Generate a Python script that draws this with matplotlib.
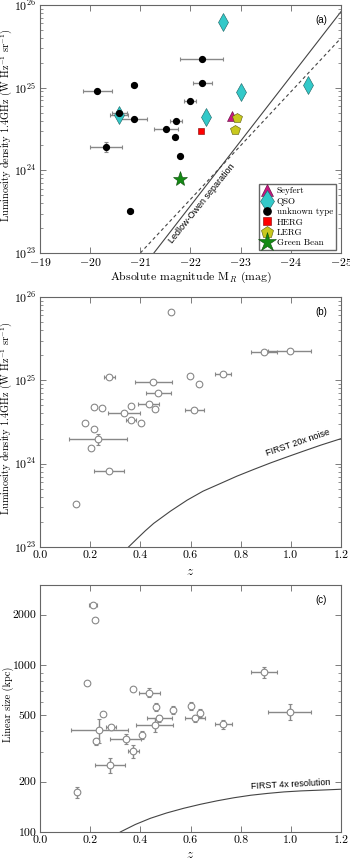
import numpy as np
import matplotlib
matplotlib.use("Agg")
import matplotlib.pyplot as plt
from matplotlib.ticker import FixedLocator, FixedFormatter, NullFormatter, LogLocator

plt.rcParams['font.family'] = 'serif'
plt.rcParams['font.serif'] = ['cmr10', 'DejaVu Serif']
plt.rcParams['mathtext.fontset'] = 'cm'
plt.rcParams['axes.formatter.use_mathtext'] = True
plt.rcParams['axes.unicode_minus'] = True

# ---------------- Panel (a) data ----------------
unk_M = [-22.22, -22.23, -20.14, -20.87, -21.99, -20.58, -20.87, -21.71, -21.52, -21.70, -20.31, -21.79, -20.80]
unk_L = [2.2e25, 1.14e25, 9.2e24, 1.08e25, 6.9e24, 5.0e24, 4.2e24, 4.0e24, 3.16e24, 2.54e24, 1.92e24, 1.51e24, 3.26e23]
unk_Merr = [0.43, 0.19, 0.29, 0.05, 0.12, 0.15, 0.27, 0.12, 0.24, 0.0, 0.32, 0.0, 0.05]
unk_Lerr = [0, 0, 0, 0, 0, 0, 0, 0, 0, 0, 0.26e24, 0, 0]

qso_M = [-22.65, -24.35, -23.01, -22.31, -20.57]
qso_L = [6.3e25, 1.09e25, 8.9e24, 4.4e24, 4.7e24]
qso_Merr = [0, 0, 0, 0, 0.18]

sey_M = [-22.83]
sey_L = [4.5e24]
herg_M = [-22.21]
herg_L = [3.0e24]
lerg_M = [-22.93, -22.88]
lerg_L = [4.3e24, 3.05e24]
gb_M = [-21.80]
gb_L = [7.8e23]

lo_solid_M = [-21.27, -25.0]
lo_solid_L = [1e23, 10**25.92]
lo_dash_M = [-21.0, -25.0]
lo_dash_L = [1e23, 10**25.6]

# ---------------- Panel (b) data ----------------
z_b = [0.524, 0.893, 0.995, 0.277, 0.452, 0.597, 0.632, 0.729, 0.472, 0.433, 0.215, 0.247,
       0.364, 0.459, 0.335, 0.615, 0.180, 0.364, 0.401, 0.217, 0.232, 0.205, 0.275, 0.143]
L_b = [6.6e25, 2.17e25, 2.26e25, 1.10e25, 9.5e24, 1.13e25, 9.1e24, 1.18e25, 7.1e24, 5.2e24, 4.8e24, 4.6e24,
       4.9e24, 4.5e24, 4.1e24, 4.4e24, 3.1e24, 3.3e24, 3.05e24, 2.6e24, 1.97e24, 1.55e24, 8.1e23, 3.3e23]
zerr_b = [0, 0.053, 0.087, 0.023, 0.075, 0, 0, 0.033, 0.05, 0.042, 0, 0,
          0, 0, 0.062, 0.038, 0, 0.02, 0, 0, 0.115, 0, 0.058, 0]
Lerr_b = [0, 0, 0, 0, 0, 0, 0, 0, 0, 0, 0, 0,
          0, 0, 0, 0, 0, 0, 0, 0, 0.28e24, 0, 0, 0]

noise_z = [0.353, 0.387, 0.42, 0.453, 0.52, 0.587, 0.65, 0.72, 0.785, 0.853, 0.92, 0.987, 1.05, 1.12, 1.2]
noise_logL = [23.0, 23.10, 23.195, 23.283, 23.43, 23.563, 23.67, 23.763, 23.85, 23.932, 24.01, 24.083,
              24.15, 24.223, 24.30]

# ---------------- Panel (c) data ----------------
z_c = [0.212, 0.220, 0.188, 0.369, 0.436, 0.893, 0.995, 0.463, 0.529, 0.600, 0.636, 0.252,
       0.476, 0.617, 0.457, 0.731, 0.283, 0.237, 0.407, 0.341, 0.223, 0.372, 0.280, 0.149]
size_c = [2287, 1858, 777, 714, 682, 904, 523, 558, 538, 570, 517, 507,
          480, 480, 437, 441, 424, 408, 381, 361, 349, 305, 251, 173]
zerr_c = [0.015, 0, 0, 0, 0.042, 0.053, 0.087, 0, 0, 0, 0, 0,
          0.051, 0.039, 0.075, 0.033, 0.018, 0.115, 0, 0.06, 0.01, 0.022, 0.059, 0]
sizeerr_c = [0, 0, 0, 0, 43, 63, 58, 31, 30, 32, 30, 0,
             22, 25, 42, 30, 15, 65, 21, 25, 15, 26, 25, 14]

res_z = [0.32, 0.38, 0.44, 0.505, 0.573, 0.64, 0.707, 0.773, 0.84, 0.907, 0.973, 1.04, 1.107, 1.2]
res_logsize = [2.0, 2.045, 2.082, 2.114, 2.142, 2.166, 2.187, 2.205, 2.22, 2.231, 2.24, 2.246, 2.25, 2.256]

# ---------------- Figure ----------------
fig = plt.figure(figsize=(3.5, 8.63), dpi=100)
L_ = 40 / 350
W_ = 301 / 350
axa = fig.add_axes([L_, 1 - 253 / 863, W_, 248 / 863])
axb = fig.add_axes([L_, 1 - 547 / 863, W_, 250 / 863])
axc = fig.add_axes([L_, 1 - 832 / 863, W_, 247 / 863])

spine_col = '#666666'
err_col = '#888888'
fs = 8.5
lfs = 7.4

def style(ax):
    for s in ax.spines.values():
        s.set_color(spine_col)
        s.set_linewidth(0.8)
    ax.tick_params(which='both', direction='in', top=True, right=True, color=spine_col,
                   labelsize=fs, pad=2.5)
    ax.tick_params(which='major', length=4, width=0.6)
    ax.tick_params(which='minor', length=2, width=0.5)
    ax.yaxis.set_label_coords(-0.085, 0.515)

# Panel (a)
ax = axa
ax.errorbar(unk_M, unk_L, xerr=unk_Merr, yerr=unk_Lerr, fmt='none', ecolor=err_col,
            elinewidth=1.0, capsize=1.5, capthick=0.8, zorder=2)
ax.errorbar(qso_M, qso_L, xerr=qso_Merr, fmt='none', ecolor=err_col,
            elinewidth=1.0, capsize=1.5, capthick=0.8, zorder=2)
ax.plot(lo_solid_M, lo_solid_L, '-', color='#444444', lw=0.8, zorder=1)
ax.plot(lo_dash_M, lo_dash_L, '--', color='#444444', lw=0.8, dashes=(3, 2.5), zorder=1)
h1, = ax.plot(sey_M, sey_L, '^', ms=6.5, mfc='#c8177f', mec='#5a0a3a', mew=0.4, ls='none', zorder=4)
h2, = ax.plot(qso_M, qso_L, 'd', ms=9, mfc='#33c9c9', mec='#1a6060', mew=0.4, ls='none', zorder=4)
h3, = ax.plot(unk_M, unk_L, 'o', ms=4.2, mfc='black', mec='black', ls='none', zorder=4)
h4, = ax.plot(herg_M, herg_L, 's', ms=5, mfc='#ff0000', mec='#800000', mew=0.4, ls='none', zorder=4)
h5, = ax.plot(lerg_M, lerg_L, 'p', ms=7, mfc='#c8c81e', mec='#5a5a10', mew=0.4, ls='none', zorder=4)
h6, = ax.plot(gb_M, gb_L, '*', ms=11, mfc='#138a13', mec='#0a4a0a', mew=0.4, ls='none', zorder=4)
ax.set_yscale('log')
ax.set_xlim(-19, -25)
ax.set_ylim(1e23, 1e26)
ax.set_xticks([-19, -20, -21, -22, -23, -24, -25])
ax.set_xlabel(r'Absolute magnitude M$_R$ (mag)', fontsize=fs, labelpad=1)
ax.set_ylabel(r'Luminosity density 1.4GHz (W Hz$^{-1}$ sr$^{-1}$)', fontsize=lfs)
style(ax)
ax.text(0.935, 0.94, '(a)', transform=ax.transAxes, fontsize=7, family='Liberation Sans',
        ha='center', va='center')
ax.text(-22.23, 10**23.594, 'Ledlow-Owen separation', rotation=51, fontsize=6.5,
        family='Liberation Sans', ha='center', va='center')
leg = ax.legend([h1, h2, h3, h4, h5, h6],
                ['Seyfert', 'QSO', 'unknown type', 'HERG', 'LERG', 'Green Bean'],
                loc='lower right', bbox_to_anchor=(0.983, 0.012), borderaxespad=0,
                fontsize=6.5, markerscale=1.25, numpoints=1,
                handlelength=1.2, handletextpad=0.5, labelspacing=0.22,
                fancybox=False, framealpha=1, edgecolor=spine_col, borderpad=0.3)
leg.get_frame().set_linewidth(1.0)

# Panel (b)
ax = axb
ax.errorbar(z_b, L_b, xerr=zerr_b, yerr=Lerr_b, fmt='o', ms=4.8, mfc='white', mec=err_col,
            mew=0.8, ecolor=err_col, elinewidth=1.0, capsize=1.5, capthick=0.8, ls='none', zorder=3)
ax.plot(noise_z, [10**v for v in noise_logL], '-', color='#444444', lw=0.8, zorder=2)
ax.set_yscale('log')
ax.set_xlim(0, 1.2)
ax.set_ylim(1e23, 1e26)
ax.set_xticks([0.0, 0.2, 0.4, 0.6, 0.8, 1.0, 1.2])
ax.xaxis.set_major_formatter(FixedFormatter(['0.0', '0.2', '0.4', '0.6', '0.8', '1.0', '1.2']))
ax.set_xlabel(r'$z$', fontsize=fs + 1, labelpad=4)
ax.set_ylabel(r'Luminosity density 1.4GHz (W Hz$^{-1}$ sr$^{-1}$)', fontsize=lfs)
style(ax)
ax.text(0.935, 0.94, '(b)', transform=ax.transAxes, fontsize=7, family='Liberation Sans',
        ha='center', va='center')
ax.text(1.03, 10**24.25, 'FIRST 20x noise', rotation=19, fontsize=6.5,
        family='Liberation Sans', ha='center', va='center')

# Panel (c)
ax = axc
ax.errorbar(z_c, size_c, xerr=zerr_c, yerr=sizeerr_c, fmt='o', ms=4.8, mfc='white', mec=err_col,
            mew=0.8, ecolor=err_col, elinewidth=1.0, capsize=1.5, capthick=0.8, ls='none', zorder=3)
ax.plot(res_z, [10**v for v in res_logsize], '-', color='#444444', lw=0.8, zorder=2)
ax.set_yscale('log')
ax.set_xlim(0, 1.2)
ax.set_ylim(100, 3010)
ax.set_xticks([0.0, 0.2, 0.4, 0.6, 0.8, 1.0, 1.2])
ax.xaxis.set_major_formatter(FixedFormatter(['0.0', '0.2', '0.4', '0.6', '0.8', '1.0', '1.2']))
ax.yaxis.set_major_locator(FixedLocator([100, 200, 500, 1000, 2000]))
ax.yaxis.set_major_formatter(FixedFormatter(['100', '200', '500', '1000', '2000']))
ax.yaxis.set_minor_locator(LogLocator(base=10, subs=np.arange(2, 10)))
ax.yaxis.set_minor_formatter(NullFormatter())
ax.set_xlabel(r'$z$', fontsize=fs + 1, labelpad=3)
ax.set_ylabel('Linear size (kpc)', fontsize=lfs)
style(ax)
ax.text(0.935, 0.94, '(c)', transform=ax.transAxes, fontsize=7, family='Liberation Sans',
        ha='center', va='center')
ax.text(1.0, 192, 'FIRST 4x resolution', rotation=3, fontsize=6.5,
        family='Liberation Sans', ha='center', va='center')

fig.savefig('out.png', dpi=100)
